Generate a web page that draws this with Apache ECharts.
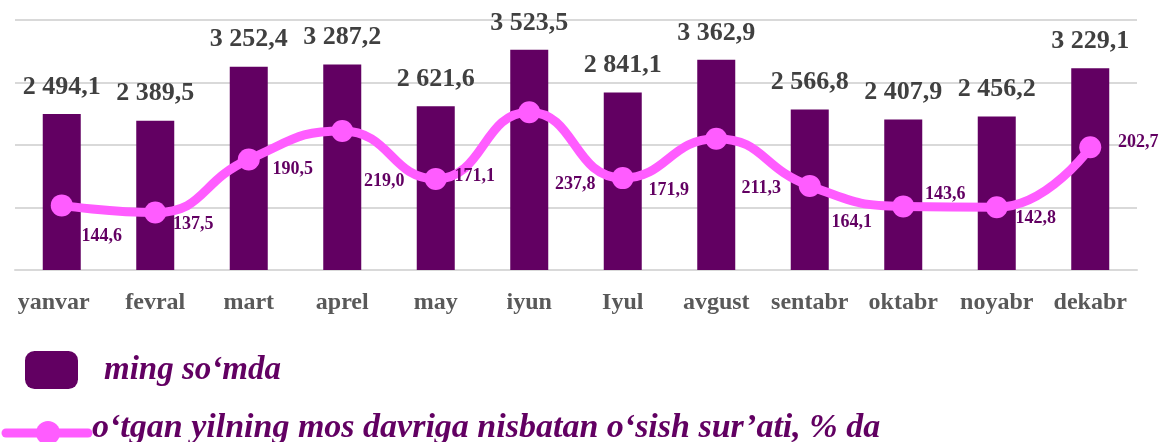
<!DOCTYPE html>
<html>
<head>
<meta charset="utf-8">
<script src="https://cdn.jsdelivr.net/npm/echarts@6/dist/echarts.min.js"></script>
<style>
html,body{margin:0;padding:0;background:#fff;}
#chart{width:1163px;height:442px;}
</style>
</head>
<body>
<div id="chart"></div>
<script>
const months = ['yanvar','fevral','mart','aprel','may','iyun','Iyul','avgust','sentabr','oktabr','noyabr','dekabr'];
const amountValues = [2494.1, 2389.5, 3252.4, 3287.2, 2621.6, 3523.5, 2841.1, 3362.9, 2566.8, 2407.9, 2456.2, 3229.1];
const growthValues = [144.6, 137.5, 190.5, 219.0, 171.1, 237.8, 171.9, 211.3, 164.1, 143.6, 142.8, 202.7];
const barSeriesName = 'ming so‘mda';
const lineSeriesName = 'o‘tgan yilning mos davriga nisbatan o‘sish sur’ati, % da';

// label placement offsets for the line labels (styling only)
const lineLabelOffsets = [[40,31],[38,12],[44,10],[42,50],[39,-3],[46,72],[46,12],[45,50],[42,36],[42,-12],[39,11],[48,-5]];

function fmt(v){
  const s = v.toFixed(1).split('.');
  const intPart = s[0].replace(/\B(?=(\d{3})+(?!\d))/g, ' ');
  return intPart + ',' + s[1];
}

const BAR = '#620062';
const LINE = '#ff5cff';
const SERIF = '"Liberation Serif", "Times New Roman", serif';

const chart = echarts.init(document.getElementById('chart'), null, {renderer:'canvas'});
chart.setOption({
  animation:false,
  backgroundColor:'#ffffff',
  grid:{left:15, right:26, top:20, bottom:172, containLabel:false},
  legend:[
    {
      left:20, top:346, orient:'horizontal',
      itemWidth:53, itemHeight:38, icon:'roundRect',
      data:[{name:barSeriesName, itemStyle:{color:BAR, borderRadius:5}}],
      textStyle:{fontFamily:SERIF, fontSize:33, fontStyle:'italic', fontWeight:'bold', color:BAR, padding:[0,0,0,21]},
      selectedMode:false
    },
    {
      left:4, top:406, orient:'horizontal',
      itemWidth:78, itemHeight:34,
      data:[{name:lineSeriesName, icon:'none'}],
      textStyle:{fontFamily:SERIF, fontSize:34, fontStyle:'italic', fontWeight:'bold', color:BAR},
      selectedMode:false
    }
  ],
  graphic:[
    {type:'line', shape:{x1:6, y1:433, x2:88, y2:433}, style:{stroke:LINE, lineWidth:9, lineCap:'round'}, silent:true},
    {type:'circle', shape:{cx:48, cy:433, r:12}, style:{fill:LINE}, silent:true}
  ],
  xAxis:{
    type:'category',
    data:months.map((m,i)=> i===0 ? {value:m, textStyle:{padding:[0,16,0,0]}} : m),
    axisLine:{show:true, lineStyle:{color:'#d9d9d9', width:2}},
    axisTick:{show:false},
    axisLabel:{fontFamily:SERIF, fontSize:24, fontWeight:'bold', color:'#595959', margin:21, interval:0}
  },
  yAxis:[
    {type:'value', min:0, max:4000, interval:1000,
     axisLabel:{show:false}, axisLine:{show:false}, axisTick:{show:false},
     splitLine:{show:true, lineStyle:{color:'#d9d9d9', width:2}}},
    {type:'value', min:80, max:330, interval:50,
     axisLabel:{show:false}, axisLine:{show:false}, axisTick:{show:false},
     splitLine:{show:false}}
  ],
  series:[
    {
      name:barSeriesName, type:'bar', yAxisIndex:0, data:amountValues,
      barWidth:38, itemStyle:{color:BAR},
      label:{show:true, position:'top', distance:14, formatter:p=>fmt(p.value),
             fontFamily:SERIF, fontSize:26, fontWeight:'bold', color:'#404040'}
    },
    {
      name:lineSeriesName, type:'line', yAxisIndex:1, z:5,
      data:growthValues.map((v,i)=>({value:v, label:{offset:lineLabelOffsets[i]}})),
      smooth:0.5,
      lineStyle:{color:LINE, width:9},
      itemStyle:{color:LINE},
      symbol:'circle', symbolSize:22,
      label:{show:true, position:'inside', formatter:p=>fmt(p.value),
             fontFamily:SERIF, fontSize:18, fontWeight:'bold', color:BAR}
    }
  ]
});
</script>
</body>
</html>
